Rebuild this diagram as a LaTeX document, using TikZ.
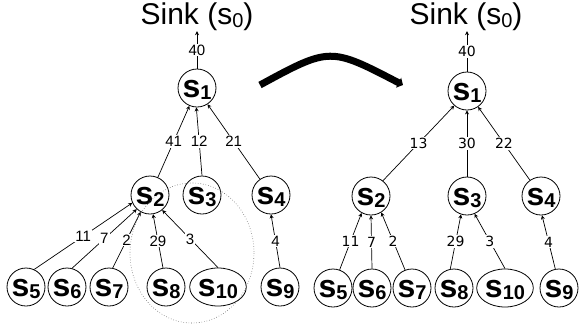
\documentclass[tikz,border=0pt]{standalone}
\usepackage{fontspec}
\setmainfont{Liberation Sans}
\newfontfamily\dvs{DejaVu Sans}
\usetikzlibrary{arrows.meta,shapes.geometric}
\newcommand{\sn}[1]{{\fontsize{32}{32}\selectfont\bfseries s\raisebox{-2pt}{\fontsize{20}{20}\selectfont #1}}}
\tikzset{
  nd/.style={draw, line width=0.8pt, circle, minimum size=38pt, inner sep=0pt, text height=20pt, text depth=1pt},
  ndw/.style={draw, line width=0.8pt, ellipse, minimum width=53pt, minimum height=38pt, inner sep=0pt, text height=20pt, text depth=1pt},
  edg/.style={draw, line width=0.7pt, -{Stealth[length=4pt,width=4pt]}},
  labl/.style={fill=white, inner sep=1pt, font=\fontsize{15}{15}\selectfont},
  labr/.style={fill=white, inner sep=1pt, font=\dvs\fontsize{14}{14}\selectfont},
  sinktext/.style={inner sep=0pt, font=\fontsize{30}{30}\selectfont}
}
\begin{document}
\begin{tikzpicture}[x=1pt,y=-1pt]
\useasboundingbox (0,0) rectangle (579,325);
% ---------- left tree ----------
\node[sinktext] (lsink) at (197,17) {Sink (s\raisebox{-3pt}{\fontsize{20}{20}\selectfont 0})};
\node[nd] (l1) at (197,88) {\sn{1}};
\node[nd] (l2) at (150,195) {\sn{2}};
\node[nd] (l3) at (202,195) {\sn{3}};
\node[nd] (l4) at (271,195) {\sn{4}};
\node[nd] (l5) at (26,287) {\sn{5}};
\node[nd] (l6) at (67,287) {\sn{6}};
\node[nd] (l7) at (109,287) {\sn{7}};
\node[nd] (l8) at (166,287) {\sn{8}};
\node[ndw] (l10) at (218,287) {\sn{10}};
\node[nd] (l9) at (280,287) {\sn{9}};

\draw[edg] (l1.north) -- node[labl] {40} (l1.north |- lsink.south);
\draw[edg] (l2.66) -- node[labl] {41} (l1.247);
\draw[edg] (l3.north) -- node[labl] {12} (l1.268);
\draw[edg] (l4.125) -- node[labl] {21} (l1.303);
\draw[edg] (l5.65) -- node[labl] {11} (l2.204);
\draw[edg] (l6.75) -- node[labl] {7} (l2.227);
\draw[edg] (l7.79) -- node[labl] {2} (l2.241);
\draw[edg] (l8.99) -- node[labl] {29} (l2.279);
\draw[edg] (l10.north) -- node[labl] {3} (l2.309);
\draw[edg] (l9.north) -- node[labl] {4} (l4.south);

\draw[gray!80!black, dotted, line width=0.6pt] (192,253) ellipse [x radius=62, y radius=70];

% ---------- big arrow ----------
\draw[line width=7pt, -{Triangle[length=5pt,width=11pt]}] (260,85) .. controls (330,47) .. (403,85);

% ---------- right tree ----------
\node[sinktext] (rsink) at (466,17) {Sink (s\raisebox{-3pt}{\fontsize{20}{20}\selectfont 0})};
\node[nd] (r1) at (467,91) {\sn{1}};
\node[nd] (r2) at (371,196) {\sn{2}};
\node[nd] (r3) at (467,196) {\sn{3}};
\node[nd] (r4) at (541,196) {\sn{4}};
\node[nd] (r5) at (333,288) {\sn{5}};
\node[nd] (r6) at (372,288) {\sn{6}};
\node[nd] (r7) at (412,288) {\sn{7}};
\node[nd] (r8) at (454,288) {\sn{8}};
\node[ndw] (r10) at (505,288) {\sn{10}};
\node[nd] (r9) at (559,288) {\sn{9}};

\draw[edg] (r1.north) -- node[labr] {40} (r1.north |- rsink.south);
\draw[edg] (r2.52) -- node[labr] {13} (r1.229);
\draw[edg] (r3.north) -- node[labr] {30} (r1.south);
\draw[edg] (r4.125) -- node[labr] {22} (r1.305);
\draw[edg] (r5.70) -- node[labr] {11} (r2.241);
\draw[edg] (r6.north) -- node[labr] {7} (r2.south);
\draw[edg] (r7.111) -- node[labr] {2} (r2.302);
\draw[edg] (r8.101) -- node[labr] {29} (r3.252);
\draw[edg] (r10.north) -- node[labr] {3} (r3.293);
\draw[edg] (r9.101) -- node[labr] {4} (r4.273);
\end{tikzpicture}
\end{document}
